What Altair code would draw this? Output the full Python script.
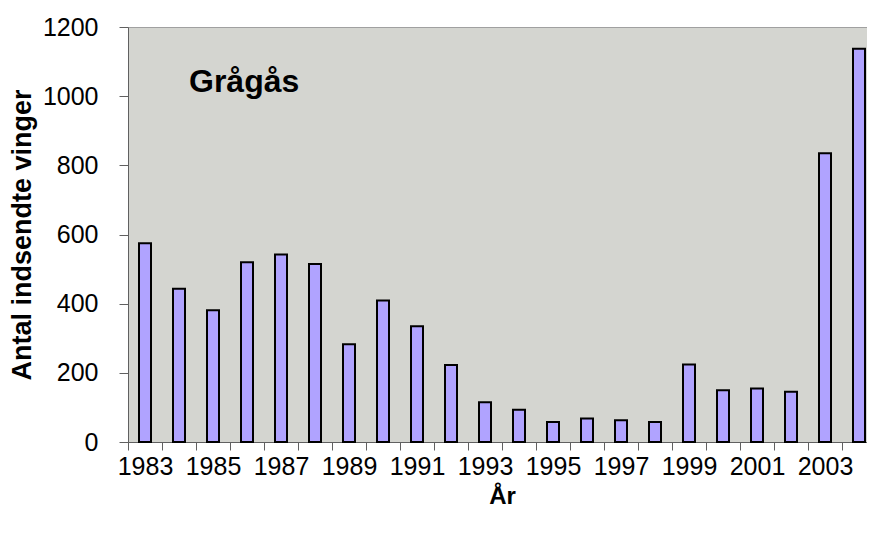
import altair as alt
import pandas as pd

years = list(range(1983, 2005))
wings = [575, 443, 381, 520, 542, 515, 283, 409, 335, 223, 115, 93,
         58, 68, 63, 58, 224, 150, 155, 145, 835, 1137]
y_ticks = [0, 200, 400, 600, 800, 1000, 1200]
title_text = "Grågås"
x_title = "År"
y_title = "Antal indsendte vinger"

df = pd.DataFrame({"year": years, "wings": wings})
FONT = "Liberation Sans"

bars = alt.Chart(df).mark_bar(
    size=12, color="#B0A3FF", stroke="black", strokeWidth=2
).encode(
    x=alt.X("year:O", title=x_title,
            scale=alt.Scale(paddingInner=0, paddingOuter=0),
            axis=alt.Axis(labelAngle=0, tickBand="extent",
                          labelExpr="datum.value % 2 == 1 ? datum.label : ''",
                          labelFontSize=25, labelFont=FONT, labelColor="black",
                          labelPadding=4, tickSize=8, tickColor="#606060",
                          domainColor="#606060", labelOverlap=False,
                          titleFontSize=24, titleFont=FONT, titleFontWeight="bold",
                          titleColor="black", titlePadding=5)),
    y=alt.Y("wings:Q", title=y_title,
            scale=alt.Scale(domain=[0, 1200], nice=False),
            axis=alt.Axis(values=y_ticks, grid=False, tickSize=9, format="d",
                          tickColor="#606060", domainColor="#606060",
                          labelFontSize=25, labelFont=FONT, labelColor="black",
                          labelPadding=21,
                          titleFontSize=27, titleFont=FONT, titleFontWeight="bold",
                          titleColor="black", titlePadding=6)),
)

label = alt.Chart(pd.DataFrame({"t": [title_text]})).mark_text(
    align="left", baseline="alphabetic", fontSize=32, fontWeight="bold",
    font=FONT, color="black"
).encode(x=alt.value(61), y=alt.value(65), text="t:N")

chart = alt.layer(bars, label).properties(
    width=748, height=415,
    autosize=alt.AutoSizeParams(type="none"),
    padding={"left": 120, "top": 19, "right": -9, "bottom": 84},
).configure_view(fill="#D4D5D0", stroke="#A0A0A0", strokeWidth=1)

chart.save("out.html", embed_options={"renderer": "svg", "actions": False})
